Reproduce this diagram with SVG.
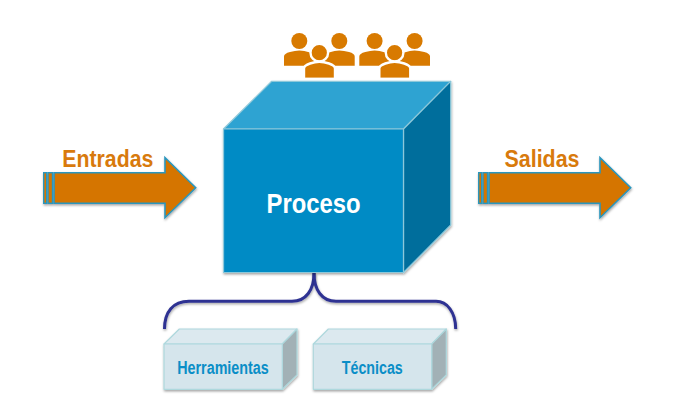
<svg xmlns="http://www.w3.org/2000/svg" width="683" height="414" viewBox="0 0 683 414">
<style>
text{font-family:"Liberation Sans",Arial,sans-serif;font-weight:bold;text-anchor:middle}
.lbl{font-size:24.5px;fill:#d87a0c}
.small{font-size:17.5px;fill:#0a8ec7}
.arrow{fill:#d57500;stroke:#2b96bd;stroke-width:1.6;stroke-linejoin:miter}
.stripe{fill:#d57500;stroke:#2b96bd;stroke-width:1.4}
.person{fill:#d87a00}
.halo{fill:#d87a00;stroke:#fff;stroke-width:2.4}
.edge{stroke-width:1.2;stroke-linejoin:round}
.bf{fill:#d5e5ec;stroke:#aed8dd}
.bt{fill:#dce9ef;stroke:#aed8dd}
.br{fill:#a2b1b6;stroke:#aed8dd}
</style>
<defs>
<filter id="sh" x="-10%" y="-10%" width="120%" height="120%"><feDropShadow dx="0.5" dy="1.5" stdDeviation="1.2" flood-color="#000" flood-opacity="0.35"/></filter>
<g id="people">
<circle class="person" cx="299.3" cy="41" r="8"/>
<path class="person" d="M284 65.7V56.5Q284 53.5 290 52Q295 50.5 299.3 50.5Q304 50.5 310 52.5Q316 54.5 316 60V65.7Z"/>
<circle class="person" cx="339.3" cy="41" r="8"/>
<path class="person" d="M354.7 65.7V56.5Q354.7 53.5 349 52Q344 50.5 339.3 50.5Q335 50.5 329 52.5Q323 54.5 323 60V65.7Z"/>
<circle class="halo" cx="319.3" cy="52.7" r="8.8"/>
<path class="halo" d="M304 79V68.5Q304 65.5 310 63.5Q315 61.8 319.3 61.8Q324 61.8 329 63.5Q335 65.5 335 68.5V79Z"/>
<rect x="300" y="77.8" width="40" height="3" fill="#fff"/>
</g>
</defs>
<rect width="683" height="414" fill="#fff"/>

<g id="connectors">
<path d="M314 273C314 290 306 301.3 292 301.3H189C173 301.3 164.5 312 164.5 329" fill="none" stroke="#2e3192" stroke-width="3" filter="url(#sh)"/>
<path d="M314 273C314 290 322 301.3 336 301.3H436C447 301.3 455.7 312 455.7 329" fill="none" stroke="#2e3192" stroke-width="3" filter="url(#sh)"/>
</g>

<g id="personas"><use href="#people"/><use href="#people" x="75.3"/></g>

<g id="proceso">
<g filter="url(#sh)">
<path class="edge" d="M223.5 129L271.7 81.3H450.7L403.5 129Z" fill="#2da3d2" stroke="#8cc8da"/>
<path class="edge" d="M403.5 129L450.7 81.3V225L403.5 272.5Z" fill="#016e9c" stroke="#8cc8da"/>
<rect class="edge" x="223.5" y="129" width="180" height="143.5" fill="#068bc5" stroke="#8cc8da"/>
</g>
<text x="313.5" y="212.5" font-size="28.5" fill="#fff" textLength="94" lengthAdjust="spacingAndGlyphs">Proceso</text>
</g>

<g id="entradas">
<g filter="url(#sh)">
<rect class="stripe" x="43.7" y="172.7" width="3" height="30.6"/>
<rect class="stripe" x="48" y="172.7" width="4.5" height="30.6"/>
<path class="arrow" d="M54 172.7H165V157.7L195.7 187.7L165 217.7V203.3H54Z"/>
</g>
<text x="107.8" y="166.5" class="lbl" textLength="91" lengthAdjust="spacingAndGlyphs">Entradas</text>
</g>

<g id="salidas">
<g filter="url(#sh)">
<rect class="stripe" x="478.7" y="172.7" width="3" height="30.6"/>
<rect class="stripe" x="483" y="172.7" width="4.5" height="30.6"/>
<path class="arrow" d="M489 172.7H600V157.7L630.7 187.7L600 217.7V203.3H489Z"/>
</g>
<text x="542" y="166.5" class="lbl" textLength="75" lengthAdjust="spacingAndGlyphs">Salidas</text>
</g>

<g id="herramientas">
<g filter="url(#sh)">
<path class="edge bt" d="M164 344L179.3 329H297L282.3 344Z"/>
<path class="edge br" d="M282.3 344L297 329V375L282.3 389.3Z"/>
<rect class="edge bf" x="164" y="344" width="118.3" height="45.3"/>
</g>
<text x="223" y="373.5" class="small" textLength="91.5" lengthAdjust="spacingAndGlyphs">Herramientas</text>
</g>

<g id="tecnicas">
<g filter="url(#sh)">
<path class="edge bt" d="M313.3 344L328.3 329H446.3L431.7 344Z"/>
<path class="edge br" d="M431.7 344L446.3 329V375L431.7 389.3Z"/>
<rect class="edge bf" x="313.3" y="344" width="118.4" height="45.3"/>
</g>
<text x="372.3" y="373.5" class="small" textLength="61" lengthAdjust="spacingAndGlyphs">Técnicas</text>
</g>
</svg>
